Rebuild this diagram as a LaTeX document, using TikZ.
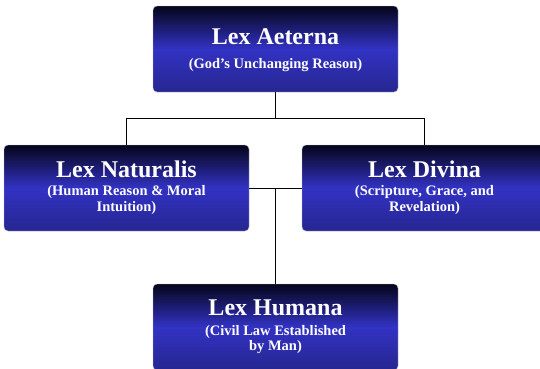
\documentclass[tikz,border=0pt]{standalone}
\usepackage{fontspec}
\setmainfont{Liberation Serif}
\definecolor{boxtop}{HTML}{05051A}
\definecolor{boxmid}{HTML}{3232C4}
\definecolor{boxbot}{HTML}{262690}
\definecolor{boxedge}{HTML}{B8B8C8}
\begin{document}
\begin{tikzpicture}[x=1pt,y=-1pt,
  lawbox/.style={rectangle, rounded corners=4pt, minimum width=245pt, minimum height=86pt,
    top color=boxtop, bottom color=boxbot, middle color=boxmid, draw=boxedge, line width=0.4pt, inner sep=0pt},
  titletext/.style={anchor=base, text=white, font=\bfseries\fontsize{24}{26}\selectfont, inner sep=0pt},
  subtext/.style={anchor=base, text=white, font=\bfseries\fontsize{14.5}{16}\selectfont, inner sep=0pt},
  link/.style={draw=black, line width=1.1pt}]
\useasboundingbox (0,0) rectangle (540,368);
\begin{scope}
\clip (0,0) rectangle (540,368);
\node[lawbox] (aet) at (275.5,49) {};
\node[lawbox] (nat) at (126.5,188) {};
\node[lawbox] (div) at (424.5,188) {};
\node[lawbox] (hum) at (275.5,327) {};

\node[titletext] (aetT) at (275.5,44) {Lex Aeterna};
\node[subtext] (aetS) at (275.5,68) {(God’s Unchanging Reason)};

\node[titletext] (natT) at (126.5,177) {Lex Naturalis};
\node[subtext] (natS1) at (126.5,195) {(Human Reason \& Moral};
\node[subtext] (natS2) at (126.5,211) {Intuition)};

\node[titletext] (divT) at (424.5,177) {Lex Divina};
\node[subtext] (divS1) at (424.5,195) {(Scripture, Grace, and};
\node[subtext] (divS2) at (424.5,211) {Revelation)};

\node[titletext] (humT) at (275.5,315) {Lex Humana};
\node[subtext] (humS1) at (275.5,335) {(Civil Law Established};
\node[subtext] (humS2) at (275.5,350) {by Man)};

\coordinate (j1) at (275.5,118.5);
\coordinate (j2) at (275.5,188.5);
\draw[link] (aet.south) -- (j1);
\draw[link] (nat.north) |- (j1) -| (div.north);
\draw[link] (nat.east |- j2) -- (div.west |- j2);
\draw[link] (j2) -- (hum.north);
\end{scope}
\end{tikzpicture}
\end{document}
